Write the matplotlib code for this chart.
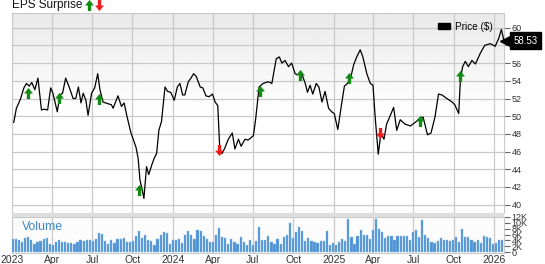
import numpy as np
import pandas as pd
import matplotlib
matplotlib.use("Agg")
import matplotlib.pyplot as plt
from matplotlib.path import Path
from matplotlib.patches import Rectangle, Patch
from matplotlib.transforms import blended_transform_factory

plt.rcParams["font.family"] = ["Liberation Sans", "DejaVu Sans"]

# ── data ─────────────────────────────────────────────────────────────────────
price_dates = [
    "2023-01-04", "2023-01-10", "2023-01-19", "2023-01-27", "2023-02-02", "2023-02-08",
    "2023-02-14", "2023-02-21", "2023-02-28", "2023-03-08", "2023-03-14", "2023-03-22",
    "2023-03-29", "2023-04-03", "2023-04-13", "2023-04-19", "2023-04-25", "2023-05-02",
    "2023-05-10", "2023-05-19", "2023-05-25", "2023-05-31", "2023-06-06", "2023-06-11",
    "2023-06-17", "2023-06-22", "2023-06-30", "2023-07-07", "2023-07-14", "2023-07-19",
    "2023-07-26", "2023-08-07", "2023-08-14", "2023-08-18", "2023-08-29", "2023-09-06",
    "2023-09-12", "2023-09-18", "2023-09-27", "2023-10-09", "2023-10-14", "2023-10-18",
    "2023-10-23", "2023-10-27", "2023-11-02", "2023-11-07", "2023-11-14", "2023-11-19",
    "2023-11-25", "2023-11-30", "2023-12-06", "2023-12-14", "2023-12-20", "2023-12-27",
    "2024-01-04", "2024-01-11", "2024-01-17", "2024-01-23", "2024-01-28", "2024-02-05",
    "2024-02-11", "2024-02-17", "2024-02-23", "2024-03-03", "2024-03-09", "2024-03-16",
    "2024-03-23", "2024-03-31", "2024-04-06", "2024-04-12", "2024-04-17", "2024-04-22",
    "2024-04-28", "2024-05-06", "2024-05-15", "2024-05-21", "2024-05-29", "2024-06-04",
    "2024-06-13", "2024-06-20", "2024-07-02", "2024-07-07", "2024-07-15", "2024-07-24",
    "2024-08-05", "2024-08-13", "2024-08-23", "2024-08-30", "2024-09-05", "2024-09-12",
    "2024-09-20", "2024-09-27", "2024-10-05", "2024-10-10", "2024-10-20", "2024-10-28",
    "2024-11-02", "2024-11-08", "2024-11-14", "2024-11-22", "2024-11-28", "2024-12-05",
    "2024-12-12", "2024-12-20", "2024-12-27", "2025-01-02", "2025-01-10", "2025-01-19",
    "2025-01-25", "2025-02-01", "2025-02-09", "2025-02-15", "2025-02-22", "2025-03-02",
    "2025-03-08", "2025-03-17", "2025-03-25", "2025-03-31", "2025-04-05", "2025-04-12",
    "2025-04-18", "2025-04-25", "2025-05-01", "2025-05-07", "2025-05-17", "2025-05-24",
    "2025-06-01", "2025-06-12", "2025-06-24", "2025-07-05", "2025-07-16", "2025-07-23",
    "2025-08-02", "2025-08-10", "2025-08-19", "2025-08-27", "2025-09-04", "2025-09-15",
    "2025-09-27", "2025-10-03", "2025-10-12", "2025-10-16", "2025-10-21", "2025-10-27",
    "2025-11-03", "2025-11-11", "2025-11-19", "2025-11-30", "2025-12-10", "2025-12-23",
    "2026-01-03", "2026-01-11", "2026-01-17", "2026-01-23",
]
price_values = [
    49.3, 50.9, 51.9, 53.2, 53.7, 53.4,
    53.8, 53.0, 54.3, 50.7, 50.8, 50.7,
    53.2, 52.6, 50.5, 52.4, 52.6, 54.3,
    53.3, 52.0, 52.0, 53.3, 51.5, 52.6,
    51.8, 50.1, 52.6, 53.2, 54.8, 53.0,
    51.6, 51.4, 51.3, 50.9, 52.3, 51.1,
    51.5, 50.1, 48.2, 46.5, 45.2, 42.8,
    41.7, 40.7, 44.3, 43.4, 44.5, 45.2,
    45.8, 48.4, 49.4, 53.3, 52.8, 52.7,
    51.8, 53.3, 53.7, 52.4, 52.4, 53.9,
    54.3, 54.8, 54.5, 53.3, 53.2, 52.3,
    52.2, 52.5, 51.6, 51.2, 45.8, 45.8,
    46.4, 47.4, 48.1, 46.3, 47.4, 46.6,
    47.4, 47.3, 47.8, 49.6, 53.3, 53.7,
    53.9, 53.7, 56.5, 56.7, 56.0, 56.3,
    55.6, 56.0, 54.8, 54.7, 54.8, 53.7,
    52.7, 53.5, 52.5, 53.7, 53.3, 51.6,
    52.8, 50.9, 50.5, 50.3, 48.5, 51.5,
    53.4, 53.7, 54.5, 55.8, 56.7, 57.5,
    56.7, 54.8, 53.7, 53.5, 49.9, 45.7,
    48.1, 47.4, 49.1, 49.8, 51.0, 48.4,
    49.6, 49.1, 48.9, 49.3, 49.8, 49.9,
    47.9, 48.1, 49.9, 52.5, 52.4, 52.0,
    51.6, 51.3, 50.3, 54.3, 55.6, 56.2,
    55.6, 56.3, 55.9, 57.1, 58.0, 58.2,
    57.9, 58.8, 59.8, 58.53,
]
last_price = 58.53

beat_dates = ["2023-02-05", "2023-04-17", "2023-07-17", "2023-10-16", "2024-07-16",
              "2024-10-16", "2025-02-05", "2025-07-16", "2025-10-16"]
beat_prices = [52.6, 52.1, 52.0, 41.7, 52.9, 54.7, 54.3, 49.5, 54.5]
miss_dates = ["2024-04-15", "2025-04-16"]
miss_prices = [46.2, 48.1]

volume_start = "2023-01-02"
volume_k = [
    4.6, 4.6, 4.2, 3.4, 4.8, 5.0, 4.0, 2.6, 3.4, 3.7, 4.3, 4.7, 2.6,
    2.3, 3.4, 4.0, 3.4, 3.4, 3.2, 3.2, 2.9, 3.4, 4.0, 3.9, 4.0, 4.1,
    3.9, 4.6, 6.6, 6.1, 3.7, 2.7, 4.0, 3.2, 4.3, 4.3, 4.9, 3.4, 3.3,
    3.9, 5.5, 7.3, 4.8, 5.7, 4.0, 3.9, 2.3, 4.6, 5.7, 6.9, 6.6, 2.6,
    4.0, 4.0, 4.6, 3.1, 5.7, 7.3, 5.9, 4.6, 7.7, 7.1, 5.5, 4.6, 3.4,
    3.4, 5.9, 8.3, 5.1, 4.8, 2.9, 4.6, 3.4, 2.9, 5.1, 3.4, 2.5, 4.0,
    2.3, 3.7, 8.6, 4.0, 4.0, 5.5, 3.4, 2.7, 4.3, 2.7, 5.1, 5.9, 10.1,
    4.8, 6.9, 8.6, 7.1, 3.7, 4.8, 3.7, 3.4, 3.2, 3.7, 3.7, 7.2, 2.5,
    3.2, 2.3, 3.4, 4.3, 3.7, 11.4, 5.3, 2.9, 5.5, 7.4, 5.9, 5.7, 4.6,
    7.4, 11.4, 8.0, 6.9, 4.8, 5.5, 5.5, 4.0, 5.5, 5.5, 5.5, 5.5, 4.0,
    6.9, 7.4, 5.1, 10.9, 5.7, 4.8, 3.4, 3.2, 3.7, 4.8, 4.0, 4.0, 3.7,
    4.0, 5.1, 3.4, 8.0, 5.1, 5.1, 4.0, 3.4, 4.0, 3.2, 5.5, 5.1, 4.8,
    2.9, 3.2, 4.2, 4.2,
]

quarter_labels = ["2023", "Apr", "Jul", "Oct", "2024", "Apr", "Jul", "Oct",
                  "2025", "Apr", "Jul", "Oct", "2026"]
price_ticks = list(range(40, 61, 2))
volume_ticks = [0, 2, 4, 6, 8, 10, 12]
volume_tick_labels = ["0", "2K", "4K", "6K", "8K", "10K", "12K"]

# ── figure layout (545 x 264 px) ─────────────────────────────────────────────
W, H = 545, 264
fig = plt.figure(figsize=(W / 100, H / 100), dpi=100)
left, right = 12, 504
ax = fig.add_axes([left / W, 1 - 213 / H, (right - left) / W, (213 - 12.5) / H])
axv = fig.add_axes([left / W, 1 - 253 / H, (right - left) / W, (253 - 216.5) / H], sharex=ax)

# gray band between panels
fig.add_artist(Rectangle((left / W, 1 - 216.5 / H), (right - left) / W, 3.5 / H,
                         transform=fig.transFigure, facecolor="#dedede", edgecolor="none"))

x0, x1 = pd.Timestamp("2022-12-31"), pd.Timestamp("2026-01-23")
grid_c = "#c9c9c9"
qticks = pd.date_range("2023-01-01", "2026-01-01", freq="QS")

# ── price panel ──────────────────────────────────────────────────────────────
grad = np.linspace(0.915, 1.0, 100).reshape(-1, 1)
grad = np.concatenate([grad, np.ones((100, 1))])
ax.imshow(grad, extent=[0, 1, 0, 1], transform=ax.transAxes, aspect="auto",
          cmap="gray", vmin=0, vmax=1, zorder=0, origin="upper")

pd_dates = pd.to_datetime(price_dates)
ax.plot(pd_dates, price_values, color="black", lw=0.9, zorder=3)

# earnings arrows: wide head, short stem
up = Path([(-0.4, 0.0), (0.0, 0.5), (0.4, 0.0), (0.15, 0.0), (0.15, -0.5),
           (-0.15, -0.5), (-0.15, 0.0), (-0.4, 0.0)], closed=True)
down = Path([(x, -y) for x, y in up.vertices], closed=True)
ax.plot(pd.to_datetime(beat_dates), beat_prices, ls="none", marker=up, ms=8,
        color="#138a13", mec="none", zorder=4)
ax.plot(pd.to_datetime(miss_dates), miss_prices, ls="none", marker=down, ms=8,
        color="#ee1c1c", mec="none", zorder=4)

ax.set_xlim(x0, x1)
ax.set_ylim(39.06, 61.72)
ax.set_xticks(qticks)
ax.set_yticks(price_ticks)
# the 58 label sits under the last-price tag in the reference
ax.set_yticklabels(["" if t == 58 else str(t) for t in price_ticks])
ax.yaxis.tick_right()
ax.tick_params(axis="x", length=0, labelbottom=False)
ax.tick_params(axis="y", length=4, color="#666666", labelsize=6.5, pad=1.5,
               labelcolor="#333333", width=0.8)
ax.grid(True, color=grid_c, lw=0.9)
ax.set_axisbelow(True)
for s in ax.spines.values():
    s.set_color(grid_c)
    s.set_linewidth(0.8)

ax.legend(handles=[Patch(facecolor="black", edgecolor="black", label="Price ($)")],
          loc="upper right", bbox_to_anchor=(0.99, 0.985), frameon=False,
          fontsize=7.2, handlelength=1.2, handleheight=0.6, handletextpad=0.5,
          borderaxespad=0.2)

# last price tag
bt = blended_transform_factory(ax.transAxes, ax.transData)
ax.plot([1.003], [last_price], marker="<", ms=7.5, color="black", transform=bt,
        clip_on=False, zorder=10)
ax.text(1.02, last_price, f"{last_price:.2f}", transform=bt, color="white",
        fontsize=7, va="center", ha="left", zorder=11, clip_on=False,
        bbox=dict(boxstyle="square,pad=0.35", facecolor="black", edgecolor="black"))

# ── volume panel ─────────────────────────────────────────────────────────────
vdates = pd.date_range(volume_start, periods=len(volume_k), freq="7D")
axv.bar(vdates, volume_k, width=5, color="#4d92d3", edgecolor="#8fbbe6",
        linewidth=0.3, zorder=3)
axv.set_ylim(-0.34, 12.17)
axv.set_yticks(volume_ticks)
axv.set_yticklabels(volume_tick_labels)
axv.yaxis.tick_right()
axv.set_xticks(qticks)
axv.set_xticklabels(quarter_labels)
axv.tick_params(axis="x", length=0, labelsize=7.5, pad=1.5, labelcolor="#333333")
axv.tick_params(axis="y", length=4, color="#666666", labelsize=6.5, pad=1.5,
                labelcolor="#333333", width=0.8)
axv.grid(True, axis="x", color=grid_c, lw=0.9)
axv.set_axisbelow(True)
axv.set_facecolor("#fcfcfc")
for s in axv.spines.values():
    s.set_color(grid_c)
    s.set_linewidth(0.8)
axv.text(0.02, 0.72, "Volume", transform=axv.transAxes, color="#3a87c8",
         fontsize=8.8, va="center", ha="left", zorder=5)
axv.set_xlim(x0, x1)

# ── header ───────────────────────────────────────────────────────────────────
fig.text(12 / W, 1 - 4.6 / H, "EPS Surprise", fontsize=8.5, va="center", ha="left",
         color="#111111")
fig.add_artist(plt.Line2D([89 / W], [1 - 4.6 / H], marker=up, ms=8, color="#138a13",
                          mec="none", ls="none", transform=fig.transFigure))
fig.add_artist(plt.Line2D([99 / W], [1 - 4.6 / H], marker=down, ms=8, color="#ee1c1c",
                          mec="none", ls="none", transform=fig.transFigure))

fig.savefig("out.png", dpi=100, facecolor="white")
